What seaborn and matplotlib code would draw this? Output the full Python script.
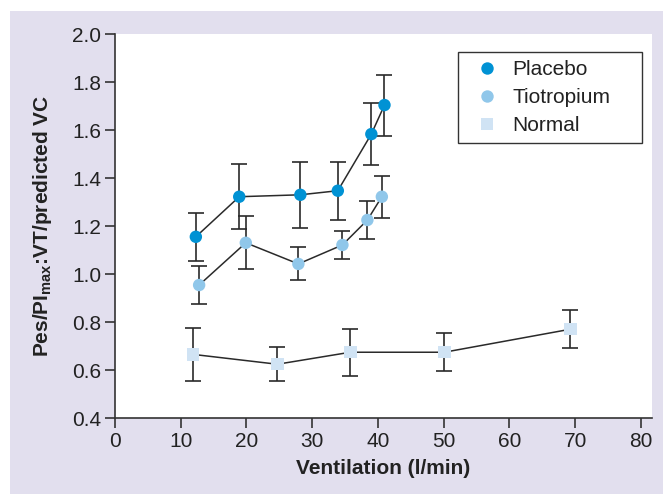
import pandas as pd
import numpy as np
import seaborn as sns
import matplotlib.pyplot as plt
from matplotlib.patches import Rectangle

# values
groups = ["Placebo", "Tiotropium", "Normal"]

placebo_x = [12.3, 18.9, 28.2, 33.9, 39.0, 41.0]
placebo_y = [1.155, 1.322, 1.330, 1.347, 1.583, 1.704]
placebo_err = [0.10, 0.135, 0.138, 0.12, 0.13, 0.127]

tiotropium_x = [12.8, 19.9, 27.9, 34.6, 38.4, 40.6]
tiotropium_y = [0.954, 1.130, 1.042, 1.121, 1.225, 1.322]
tiotropium_err = [0.079, 0.11, 0.069, 0.06, 0.079, 0.087]

normal_x = [11.9, 24.7, 35.8, 50.1, 69.3]
normal_y = [0.665, 0.624, 0.674, 0.674, 0.770]
normal_err = [0.11, 0.07, 0.097, 0.079, 0.08]

x_ticks = [0, 10, 20, 30, 40, 50, 60, 70, 80]
y_ticks = [0.4, 0.6, 0.8, 1.0, 1.2, 1.4, 1.6, 1.8, 2.0]

colors = {"Placebo": "#0092d4", "Tiotropium": "#90c7ea", "Normal": "#d0e3f4"}
markers = {"Placebo": "o", "Tiotropium": "o", "Normal": "s"}

def build_frame():
    parts = []
    for name, xs, ys, es in [("Placebo", placebo_x, placebo_y, placebo_err),
                             ("Tiotropium", tiotropium_x, tiotropium_y, tiotropium_err),
                             ("Normal", normal_x, normal_y, normal_err)]:
        parts.append(pd.DataFrame({"group": name, "vent": xs, "val": ys, "err": es}))
    return pd.concat(parts, ignore_index=True)

def main():
    df = build_frame()

    sns.set_style("white")
    plt.rcParams["font.family"] = ["Liberation Sans", "DejaVu Sans"]
    plt.rcParams["mathtext.fontset"] = "custom"
    plt.rcParams["mathtext.rm"] = "Liberation Sans"
    plt.rcParams["mathtext.bf"] = "Liberation Sans:bold"

    fig = plt.figure(figsize=(6.63, 4.94), dpi=100, facecolor="white")
    # lavender panel behind the chart
    fig.patches.append(Rectangle((10 / 663, 0), 1, (494 - 11) / 494,
                                 transform=fig.transFigure, facecolor="#e2dfee",
                                 edgecolor="none", zorder=-10))
    ax = fig.add_axes([115 / 663, 1 - 418 / 494, 537 / 663, 384 / 494])
    ax.set_facecolor("white")

    # connecting lines
    sns.lineplot(data=df, x="vent", y="val", units="group", estimator=None,
                 color="#2a2a2a", lw=1.1, ax=ax, legend=False, zorder=1)

    # error bars
    for name in groups:
        sub = df[df["group"] == name]
        ax.errorbar(sub["vent"], sub["val"], yerr=sub["err"], fmt="none",
                    ecolor="#2a2a2a", elinewidth=1.2, capsize=5.5, capthick=1.2, zorder=2)

    # markers
    sns.scatterplot(data=df, x="vent", y="val", hue="group", style="group",
                    hue_order=groups, style_order=groups, palette=colors, markers=markers,
                    s=80, edgecolor="none", linewidth=0, ax=ax, zorder=3)

    ax.set_xlim(0, 81.7)
    ax.set_ylim(0.4, 2.0)
    ax.set_xticks(x_ticks)
    ax.set_yticks(y_ticks)
    ax.set_yticklabels([f"{v:.1f}" for v in y_ticks])

    for side in ["top", "right"]:
        ax.spines[side].set_visible(False)
    for side in ["left", "bottom"]:
        ax.spines[side].set_color("#333333")
        ax.spines[side].set_linewidth(1.2)
    ax.tick_params(axis="both", direction="out", length=7, width=1.2, color="#333333",
                   labelsize=15, labelcolor="#222222", pad=3)
    ax.tick_params(axis="both", left=True, bottom=True)

    ax.set_xlabel("Ventilation (l/min)", fontsize=15, fontweight="bold", color="#222222", labelpad=6)
    ax.set_ylabel(r"Pes/PI$_{\mathregular{max}}$:VT/predicted VC", fontsize=15,
                  fontweight="bold", color="#222222", labelpad=13)

    # legend box, wider than its contents as in the original
    ax.add_patch(Rectangle((0.639, 0.716), 0.342, 0.237, transform=ax.transAxes,
                           facecolor="white", edgecolor="#333333", lw=1.0, zorder=4))
    leg = ax.legend(loc="upper left", bbox_to_anchor=(0.6695, 0.931), borderaxespad=0,
                    fontsize=15, frameon=False, borderpad=0, handlelength=1.2,
                    handletextpad=0.6, labelspacing=0.42, markerscale=1.0)
    leg.set_zorder(5)
    for t in leg.get_texts():
        t.set_color("#222222")

    fig.savefig("out.png", dpi=100, facecolor=fig.get_facecolor())

if __name__ == "__main__":
    main()
